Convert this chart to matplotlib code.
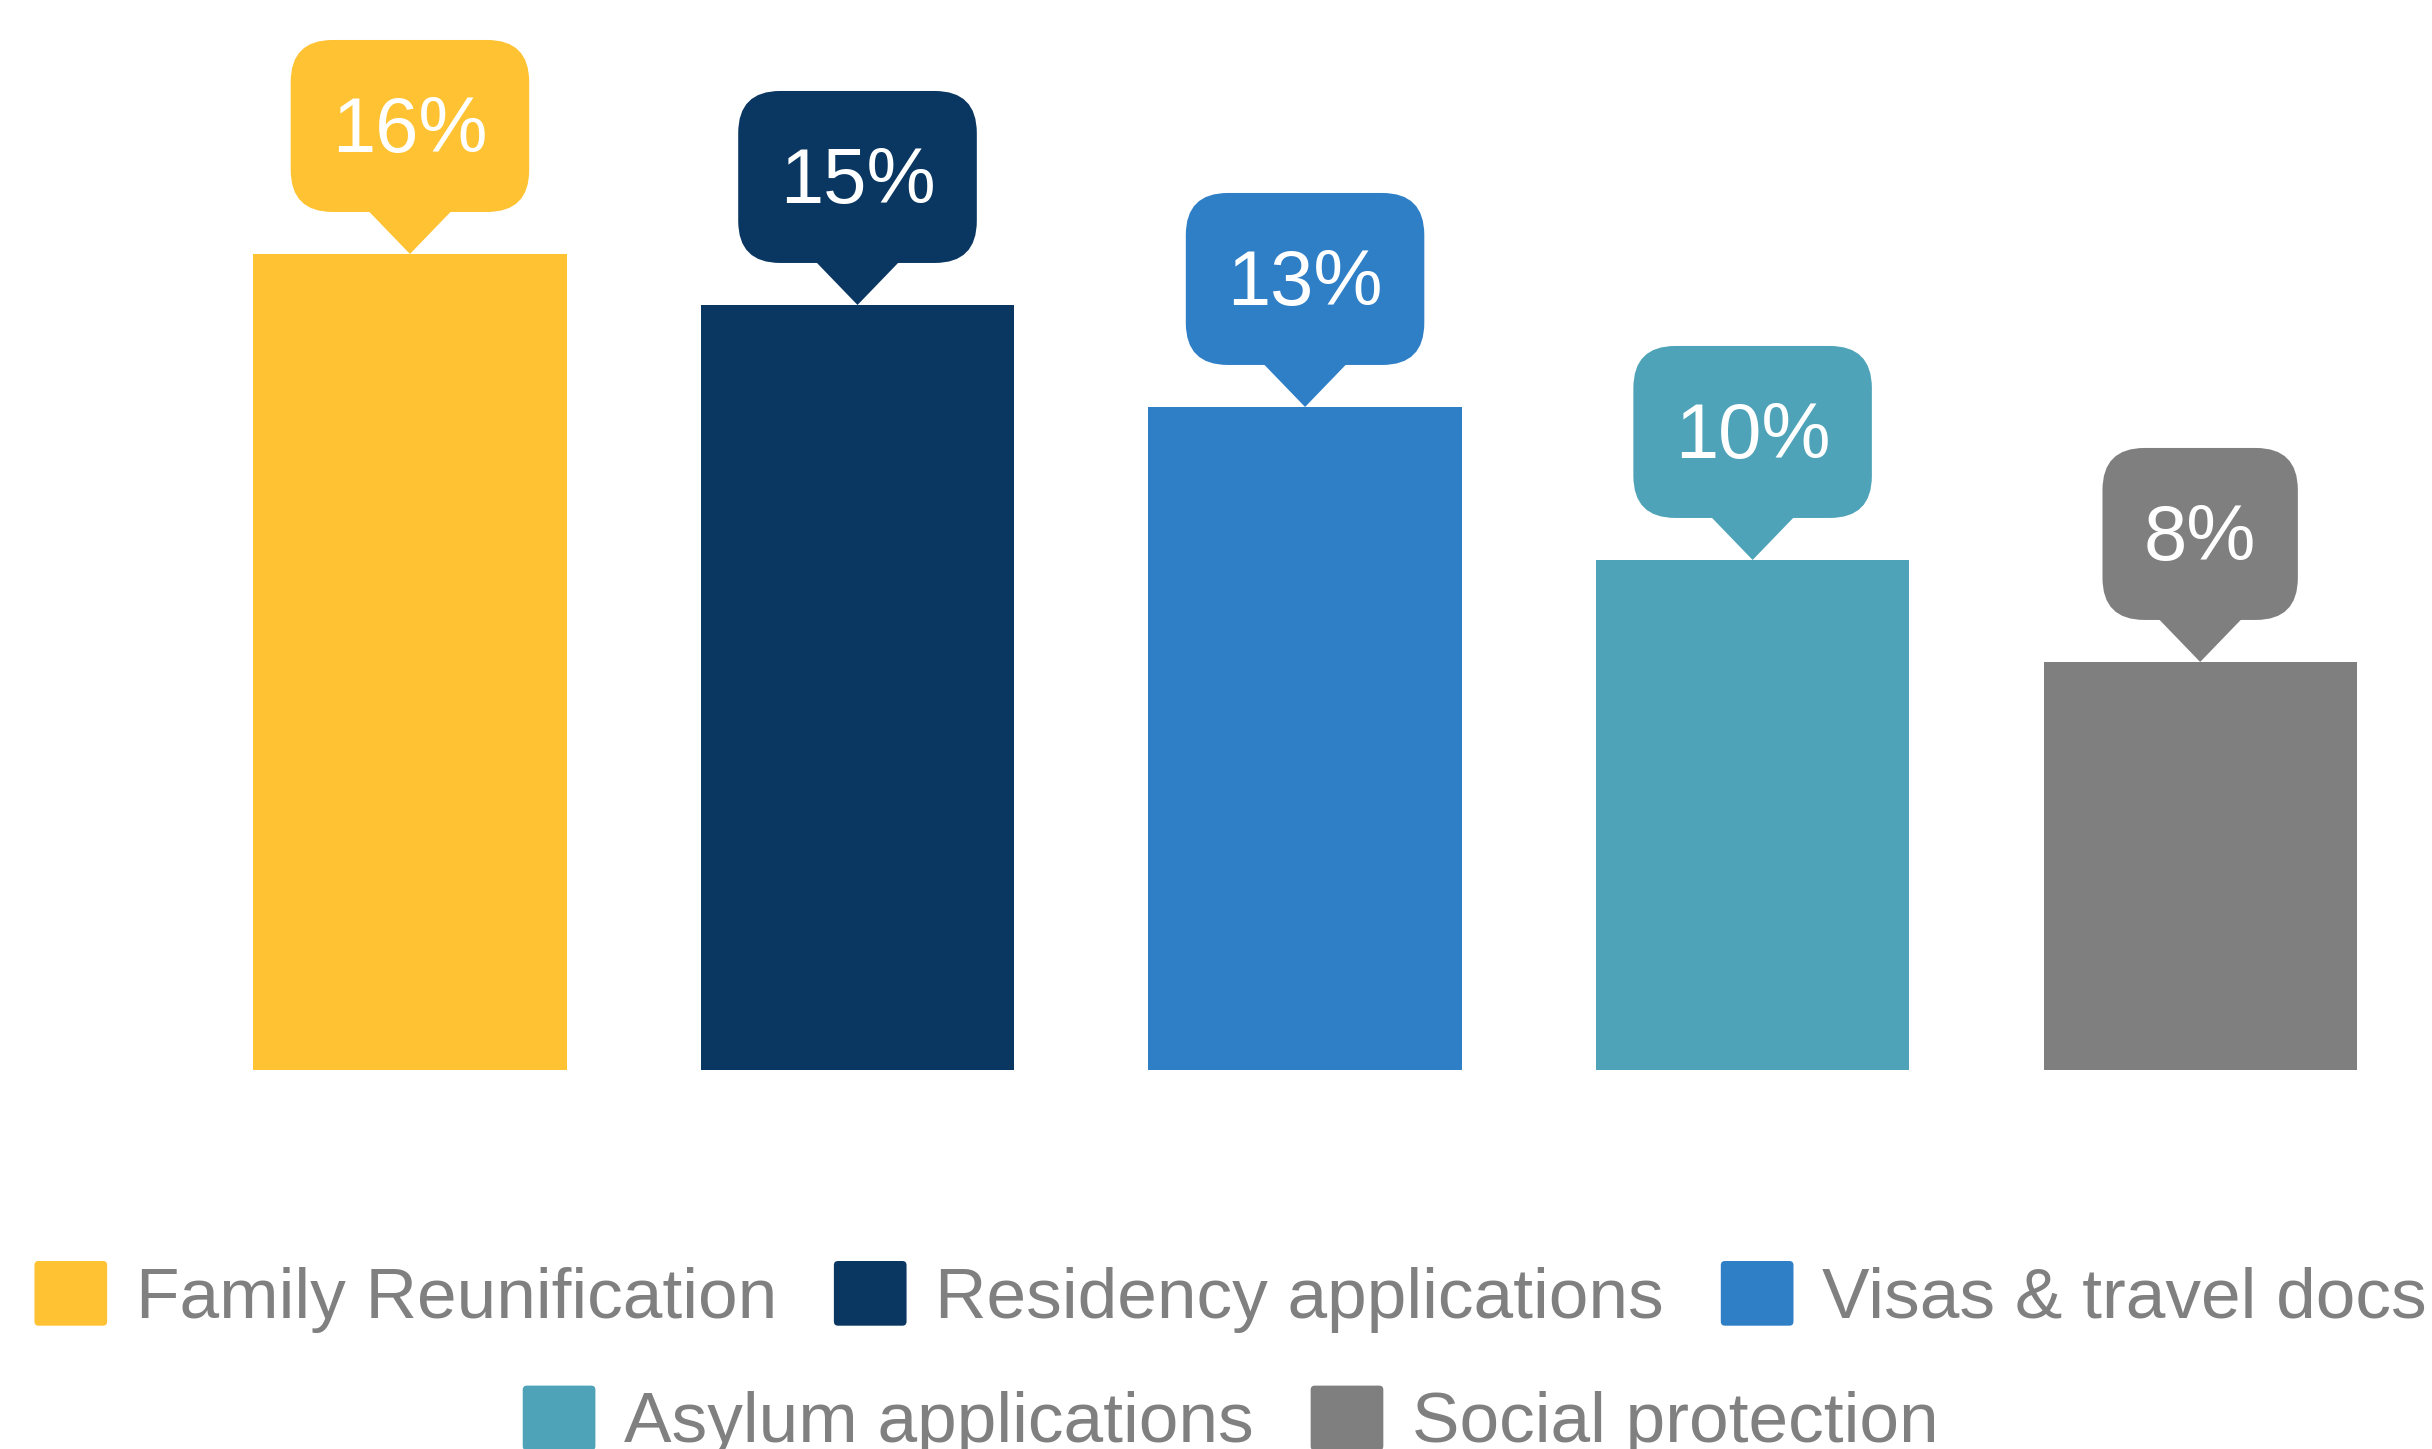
import numpy as np
import matplotlib.pyplot as plt
import matplotlib.transforms as mtransforms
from matplotlib.patches import FancyBboxPatch, Polygon
from matplotlib.legend_handler import HandlerPatch

plt.rcParams['font.family'] = ['Liberation Sans', 'DejaVu Sans']

categories = ["Family Reunification", "Residency applications", "Visas & travel docs",
              "Asylum applications", "Social protection"]
values = [16, 15, 13, 10, 8]
labels = ["16%", "15%", "13%", "10%", "8%"]
colors = ['#FEC232', '#0A3762', '#2F7FC7', '#4EA3B8', '#7F7F7F']


class RoundHandler(HandlerPatch):
    def create_artists(self, legend, orig_handle, xdescent, ydescent,
                       width, height, fontsize, trans):
        p = FancyBboxPatch((-xdescent, -ydescent), width, height,
                           boxstyle="round,pad=0,rounding_size=3",
                           fc=orig_handle.get_facecolor(), ec='none',
                           transform=trans)
        return [p]


fig = plt.figure(figsize=(24.32, 14.49), dpi=100)
ax = fig.add_axes([0, 0.2616, 1, 0.7384])

x = np.arange(len(values))
bars = ax.bar(x, values, width=0.70, color=colors, zorder=2)
for b, lab in zip(bars, categories):
    b.set_label(lab)

ax.set_xlim(-0.916, 4.518)
ax.set_ylim(0, 20.98)
ax.axis('off')

# callout bubbles above the bars (sizes in inches)
renderer = fig.canvas.get_renderer()
pad_x, box_bot, box_h, tri_h, tri_hw = 0.415, 0.42, 1.72, 0.42, 0.415
for xi, v, lab, c in zip(x, values, labels, colors):
    trans = fig.dpi_scale_trans + mtransforms.ScaledTranslation(xi, v, ax.transData)
    t = ax.text(0, box_bot + 0.60, lab, transform=trans, ha='center', va='baseline',
                fontsize=56, color='white', zorder=5)
    w = t.get_window_extent(renderer).width / fig.dpi
    box = FancyBboxPatch((-(w / 2 + pad_x), box_bot), w + 2 * pad_x, box_h,
                         boxstyle="round,pad=0,rounding_size=0.42",
                         fc=c, ec='none', transform=trans, zorder=4)
    ax.add_patch(box)
    tri = Polygon([(-tri_hw, box_bot + 0.01), (tri_hw, box_bot + 0.01), (0, 0)],
                  closed=True, fc=c, ec='none', transform=trans, zorder=4)
    ax.add_patch(tri)

handles = list(bars)
leg_kw = dict(loc='center', frameon=False, fontsize=51.3, labelcolor='#808080',
              handlelength=1.02, handleheight=1.02, handletextpad=0.4,
              columnspacing=0.8, borderpad=0, handler_map={bars[0].__class__: RoundHandler()})
fig.legend(handles[:3], categories[:3], ncol=3, bbox_to_anchor=(0.506, 0.105), **leg_kw)
fig.legend(handles[3:], categories[3:], ncol=2, bbox_to_anchor=(0.506, 0.019), **leg_kw)

fig.savefig("out.png", dpi=100)
